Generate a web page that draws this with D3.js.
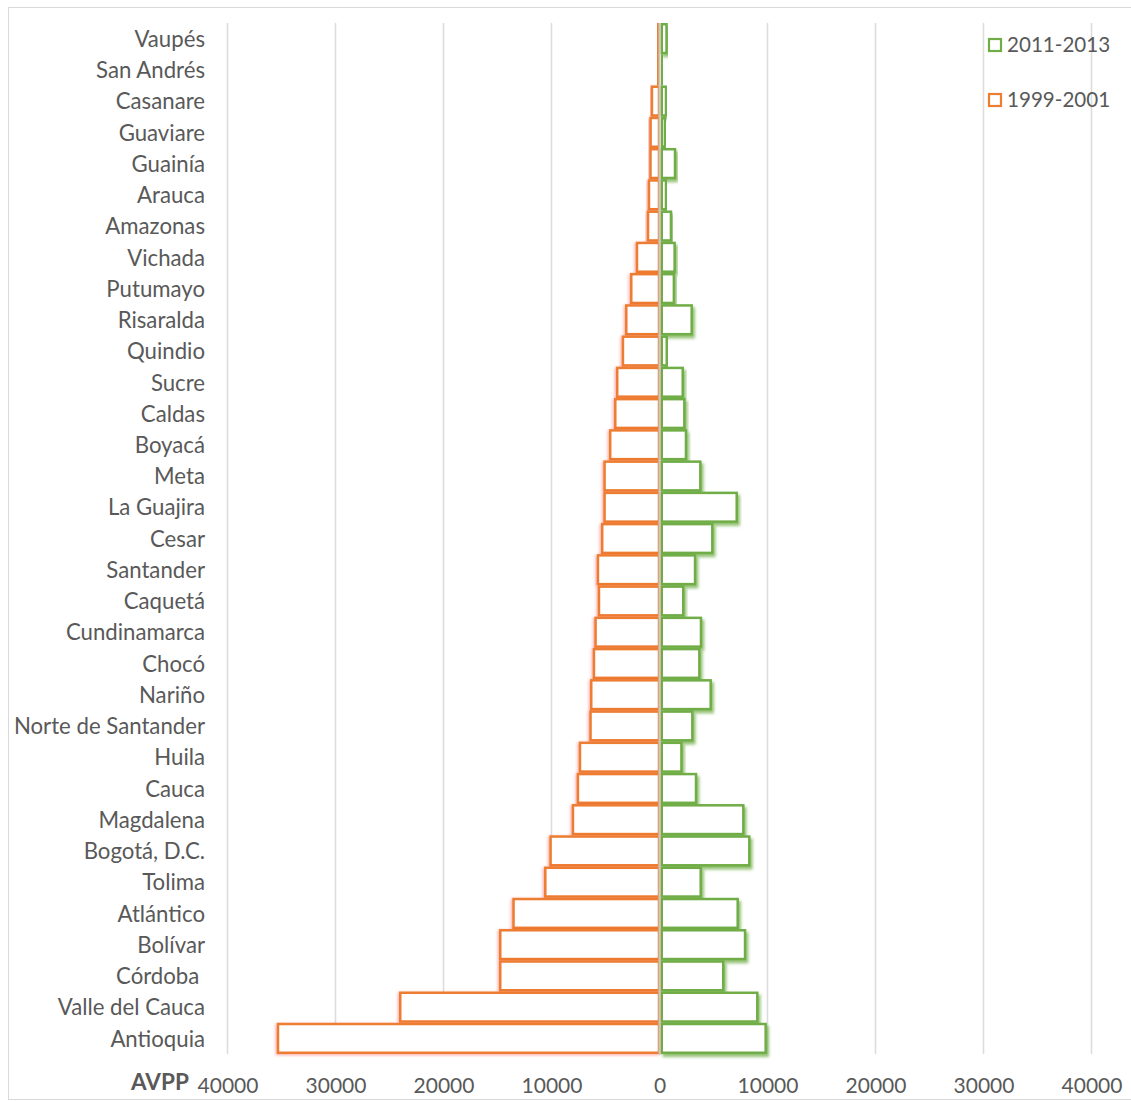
<!DOCTYPE html>
<html>
<head>
<meta charset="utf-8">
<script src="https://cdn.jsdelivr.net/npm/d3@7"></script>
<style>
  html, body { margin: 0; padding: 0; background: #fff; }
  svg { display: block; }
  text { font-family: Lato, "Open Sans", sans-serif; fill: #595959; }
</style>
</head>
<body>
<svg id="chart" width="1131" height="1101"></svg>
<script>
// Departments, top to bottom
const departments = [
  "Vaupés", "San Andrés", "Casanare", "Guaviare", "Guainía", "Arauca", "Amazonas",
  "Vichada", "Putumayo", "Risaralda", "Quindio", "Sucre", "Caldas", "Boyacá", "Meta",
  "La Guajira", "Cesar", "Santander", "Caquetá", "Cundinamarca", "Chocó", "Nariño",
  "Norte de Santander", "Huila", "Cauca", "Magdalena", "Bogotá, D.C.", "Tolima",
  "Atlántico", "Bolívar", "Córdoba ", "Valle del Cauca", "Antioquia"
];

// AVPP, period 1999-2001 (drawn to the left)
const avpp1999_2001 = [
  250, 260, 815, 940, 950, 1090, 1180,
  2200, 2730, 3190, 3500, 4030, 4210, 4680, 5200,
  5200, 5420, 5815, 5720, 6035, 6185, 6435,
  6500, 7480, 7670, 8130, 10200, 10690,
  13630, 14860, 14860, 24120, 35440
];

// AVPP, period 2011-2013 (drawn to the right)
const avpp2011_2013 = [
  650, 150, 600, 500, 1435, 600, 1060,
  1400, 1330, 2980, 670, 2150, 2300, 2450, 3780,
  7150, 4890, 3290, 2200, 3840, 3690, 4740,
  3040, 2030, 3380, 7760, 8315, 3815,
  7240, 7920, 5900, 9055, 9830
];

const xTicks = [-40000, -30000, -20000, -10000, 0, 10000, 20000, 30000, 40000];
const seriesNames = ["2011-2013", "1999-2001"];
const axisTitle = "AVPP";

const ORANGE = "#ED7D31", GREEN = "#70AD47";

const svg = d3.select("#chart");

// soft glow / shadow effects on the bars
const defs = svg.append("defs");
const glow = defs.append("filter").attr("id", "glowOrange")
  .attr("x", "-20%").attr("y", "-50%").attr("width", "140%").attr("height", "200%");
glow.append("feGaussianBlur").attr("in", "SourceAlpha").attr("stdDeviation", 1.6).attr("result", "b");
glow.append("feOffset").attr("in", "b").attr("dx", -1).attr("dy", 1).attr("result", "o");
glow.append("feFlood").attr("flood-color", "#ff2a2a").attr("flood-opacity", 0.45);
glow.append("feComposite").attr("in2", "o").attr("operator", "in").attr("result", "s");
const gm = glow.append("feMerge");
gm.append("feMergeNode").attr("in", "s");
gm.append("feMergeNode").attr("in", "SourceGraphic");

const shad = defs.append("filter").attr("id", "shadowGreen")
  .attr("x", "-20%").attr("y", "-50%").attr("width", "140%").attr("height", "200%");
shad.append("feGaussianBlur").attr("in", "SourceAlpha").attr("stdDeviation", 1.8).attr("result", "b");
shad.append("feOffset").attr("in", "b").attr("dx", 2).attr("dy", 3).attr("result", "o");
shad.append("feFlood").attr("flood-color", GREEN).attr("flood-opacity", 0.75);
shad.append("feComposite").attr("in2", "o").attr("operator", "in").attr("result", "s");
const sm = shad.append("feMerge");
sm.append("feMergeNode").attr("in", "s");
sm.append("feMergeNode").attr("in", "SourceGraphic");

// outer frame
svg.append("rect")
  .attr("x", 8.5).attr("y", 7.5).attr("width", 1130).attr("height", 1092)
  .attr("fill", "none").attr("stroke", "#d9d9d9").attr("stroke-width", 1);

const x = d3.scaleLinear().domain([-40000, 40000]).range([227.5, 1091.5]);
const y = d3.scaleBand().domain(departments).range([23, 1054]).padding(0);
const bw = y.bandwidth();
const sw = 2.5;

// vertical gridlines
svg.append("g").selectAll("line")
  .data(xTicks.filter(d => d !== 0))
  .join("line")
  .attr("x1", d => x(d)).attr("x2", d => x(d))
  .attr("y1", 23).attr("y2", 1054)
  .attr("stroke", "#dcdcdc").attr("stroke-width", 1.6);

// 2011-2013 bars (right side)
svg.append("g").selectAll("rect")
  .data(departments.map((d, i) => ({ d, v: avpp2011_2013[i] })))
  .join("rect")
  .attr("x", x(0) + 1 + sw / 2)
  .attr("y", r => y(r.d) + sw / 2)
  .attr("width", r => Math.max(0.5, x(r.v) - x(0) - 1 - sw / 2))
  .attr("height", bw - sw)
  .attr("fill", "#fff")
  .attr("stroke", GREEN).attr("stroke-width", sw)
  .attr("filter", "url(#shadowGreen)");

// 1999-2001 bars (left side)
svg.append("g").selectAll("rect")
  .data(departments.map((d, i) => ({ d, v: avpp1999_2001[i] })))
  .join("rect")
  .attr("x", r => x(-r.v) + sw / 2)
  .attr("y", r => y(r.d) + sw / 2)
  .attr("width", r => Math.max(0.5, x(0) - x(-r.v) - sw / 2 - 0.5))
  .attr("height", bw - sw)
  .attr("fill", "#fff")
  .attr("stroke", ORANGE).attr("stroke-width", sw)
  .attr("filter", "url(#glowOrange)");

// category axis line at zero
svg.append("line")
  .attr("x1", x(0)).attr("x2", x(0)).attr("y1", 23).attr("y2", 1055)
  .attr("stroke", "#c9c9bd").attr("stroke-width", 2);

// category labels (keep trailing spaces)
svg.append("g").selectAll("text")
  .data(departments)
  .join("text")
  .attr("x", 205)
  .attr("y", d => y(d) + bw / 2)
  .attr("dy", "0.37em")
  .attr("text-anchor", "end")
  .attr("font-size", 22.2)
  .style("white-space", "pre")
  .text(d => d);

// value axis
const xAxis = d3.axisBottom(x).tickValues(xTicks).tickSize(0)
  .tickFormat(d => String(Math.abs(d)));
const gx = svg.append("g").attr("transform", "translate(0,1075)").call(xAxis);
gx.select(".domain").remove();
gx.selectAll("text").attr("font-size", 21).attr("fill", "#595959")
  .style("font-family", "Lato, 'Open Sans', sans-serif");

svg.append("text")
  .attr("x", 131).attr("y", 1090)
  .attr("font-size", 22.5).attr("font-weight", "bold")
  .text(axisTitle);

// legend
const legendColors = [GREEN, ORANGE];
const lg = svg.append("g").selectAll("g")
  .data(seriesNames)
  .join("g")
  .attr("transform", (d, i) => `translate(988, ${38 + i * 55})`);
lg.append("rect")
  .attr("x", 1).attr("y", 1).attr("width", 12).attr("height", 12)
  .attr("fill", "#fff").attr("stroke", (d, i) => legendColors[i]).attr("stroke-width", 2.2);
lg.append("text")
  .attr("x", 19).attr("y", 14)
  .attr("font-size", 20.6)
  .text(d => d);
</script>
</body>
</html>
